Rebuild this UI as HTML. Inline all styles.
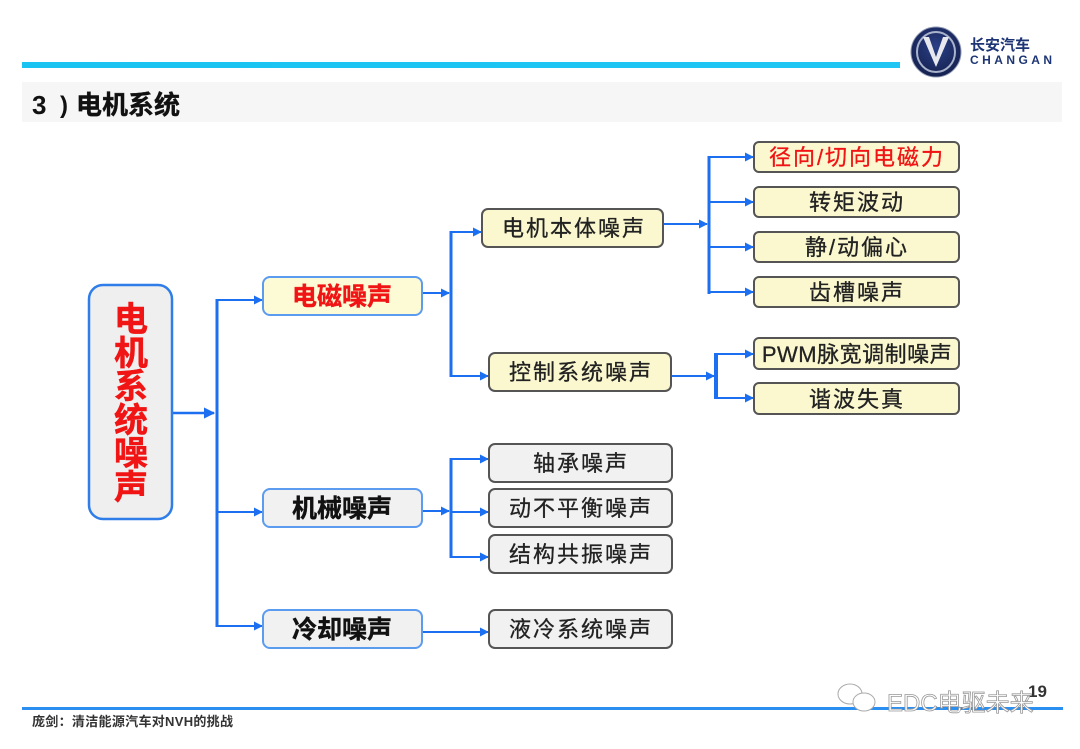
<!DOCTYPE html>
<html><head><meta charset="utf-8"><style>
html,body{margin:0;padding:0;background:#fff;width:1080px;height:749px;overflow:hidden}
svg{display:block}
text{font-family:"Liberation Sans","Noto Sans CJK SC",sans-serif}
</style></head><body>
<svg width="1080" height="749" viewBox="0 0 1080 749" xmlns="http://www.w3.org/2000/svg">
<defs>
<marker id="ar" viewBox="0 0 10 10" refX="9" refY="5" markerWidth="4.5" markerHeight="4.5" markerUnits="strokeWidth" orient="auto">
<path d="M0,0 L10,5 L0,10 z" fill="#1d6ff2"/></marker>
<linearGradient id="tl" x1="0" x2="1" y1="0" y2="0"><stop offset="0" stop-color="#19c3f2"/><stop offset="1" stop-color="#1fc6f4"/></linearGradient>
<radialGradient id="lg" cx="0.5" cy="0.4" r="0.6"><stop offset="0" stop-color="#2a3f86"/><stop offset="1" stop-color="#15214f"/></radialGradient>
</defs>
<!-- header -->
<rect x="22" y="62" width="878" height="6" fill="url(#tl)"/>
<rect x="22" y="82" width="1040" height="40" fill="#f6f6f6"/>
<text x="32" y="114" font-size="26" font-weight="bold" fill="#111">3</text>
<text x="60" y="113" font-size="24" font-weight="bold" fill="#111">)</text>
<text x="76" y="114" font-size="26" font-weight="bold" fill="#111" stroke="#111" stroke-width="0.4">电机系统</text>
<!-- logo -->
<ellipse cx="936" cy="52" rx="25" ry="25" fill="url(#lg)" stroke="#8d97b3" stroke-width="1"/>
<ellipse cx="936" cy="52" rx="19" ry="20" fill="none" stroke="#aab3cc" stroke-width="2"/>
<path d="M923,37 L936,67 L949,37 L943,37 L936,57 L929,37 z" fill="#e6e8ee"/>
<text x="970" y="50" font-size="15" font-weight="bold" fill="#1d3575">长安汽车</text>
<text x="970" y="64" font-size="12" font-weight="bold" fill="#1d3575" textLength="82">CHANGAN</text>
<!-- connectors -->
<g stroke="#1d6ff2" fill="none" stroke-width="2">
<line x1="172" y1="413" x2="214" y2="413" stroke-width="2.5" marker-end="url(#ar)"/>
<line x1="217" y1="299" x2="217" y2="627" stroke-width="3"/>
<line x1="217" y1="300" x2="262" y2="300" marker-end="url(#ar)"/>
<line x1="217" y1="512" x2="262" y2="512" marker-end="url(#ar)"/>
<line x1="217" y1="626" x2="262" y2="626" marker-end="url(#ar)"/>

<line x1="422" y1="293" x2="449" y2="293" marker-end="url(#ar)"/>
<line x1="451" y1="231" x2="451" y2="377" stroke-width="3"/>
<line x1="451" y1="232" x2="481" y2="232" marker-end="url(#ar)"/>
<line x1="451" y1="376" x2="488" y2="376" marker-end="url(#ar)"/>

<line x1="663" y1="224" x2="707" y2="224" marker-end="url(#ar)"/>
<line x1="709" y1="156" x2="709" y2="294" stroke-width="3"/>
<line x1="709" y1="157" x2="753" y2="157" marker-end="url(#ar)"/>
<line x1="709" y1="202" x2="753" y2="202" marker-end="url(#ar)"/>
<line x1="709" y1="247" x2="753" y2="247" marker-end="url(#ar)"/>
<line x1="709" y1="292" x2="753" y2="292" marker-end="url(#ar)"/>

<line x1="671" y1="376" x2="714" y2="376" marker-end="url(#ar)"/>
<line x1="716" y1="353" x2="716" y2="399" stroke-width="4"/>
<line x1="716" y1="354" x2="753" y2="354" marker-end="url(#ar)"/>
<line x1="716" y1="398" x2="753" y2="398" marker-end="url(#ar)"/>

<line x1="422" y1="511" x2="449" y2="511" marker-end="url(#ar)"/>
<line x1="451" y1="458" x2="451" y2="558" stroke-width="3"/>
<line x1="451" y1="459" x2="488" y2="459" marker-end="url(#ar)"/>
<line x1="451" y1="512" x2="488" y2="512" marker-end="url(#ar)"/>
<line x1="451" y1="557" x2="488" y2="557" marker-end="url(#ar)"/>

<line x1="422" y1="632" x2="488" y2="632" marker-end="url(#ar)"/>
</g>
<!-- root -->
<rect x="89" y="285" width="83" height="234" rx="14" fill="#efefef" stroke="#2f7de8" stroke-width="2.5"/>
<g font-size="34" font-weight="bold" fill="#f01414" text-anchor="middle" stroke="#f01414" stroke-width="0.5">
<text x="131" y="331">电</text>
<text x="131" y="365">机</text>
<text x="131" y="398">系</text>
<text x="131" y="432">统</text>
<text x="131" y="465">噪</text>
<text x="131" y="499">声</text>
</g>
<!-- level 1 -->
<g stroke="#5b9bf0" stroke-width="2">
<rect x="263" y="277" width="159" height="38" rx="7" fill="#fdfbd6"/>
<rect x="263" y="489" width="159" height="38" rx="7" fill="#f1f1f1"/>
<rect x="263" y="610" width="159" height="38" rx="7" fill="#f1f1f1"/>
</g>
<g font-size="25" font-weight="bold" text-anchor="middle">
<text x="342" y="305" fill="#f01414" stroke="#f01414" stroke-width="0.4">电磁噪声</text>
<text x="342" y="517" fill="#111" stroke="#111" stroke-width="0.4">机械噪声</text>
<text x="342" y="638" fill="#111" stroke="#111" stroke-width="0.4">冷却噪声</text>
</g>
<!-- level 2/3 boxes -->
<g stroke="#555" stroke-width="2">
<rect x="482" y="209" width="181" height="38" rx="6" fill="#fbf8cf"/>
<rect x="489" y="353" width="182" height="38" rx="6" fill="#fbf8cf"/>
<rect x="754" y="142" width="205" height="30" rx="5" fill="#fbf8cf"/>
<rect x="754" y="187" width="205" height="30" rx="5" fill="#fbf8cf"/>
<rect x="754" y="232" width="205" height="30" rx="5" fill="#fbf8cf"/>
<rect x="754" y="277" width="205" height="30" rx="5" fill="#fbf8cf"/>
<rect x="754" y="338" width="205" height="31" rx="5" fill="#fbf8cf"/>
<rect x="754" y="383" width="205" height="31" rx="5" fill="#fbf8cf"/>
<rect x="489" y="444" width="183" height="38" rx="6" fill="#f1f1f1"/>
<rect x="489" y="489" width="183" height="38" rx="6" fill="#f1f1f1"/>
<rect x="489" y="535" width="183" height="38" rx="6" fill="#f1f1f1"/>
<rect x="489" y="610" width="183" height="38" rx="6" fill="#f1f1f1"/>
</g>
<g font-size="22" fill="#222" text-anchor="middle" letter-spacing="2" stroke="#222" stroke-width="0.3">
<text x="574" y="236">电机本体噪声</text>
<text x="581" y="380">控制系统噪声</text>
<text x="857" y="165" fill="#f01414" stroke="#f01414" letter-spacing="2">径向/切向电磁力</text>
<text x="857" y="210">转矩波动</text>
<text x="857" y="255">静/动偏心</text>
<text x="857" y="300">齿槽噪声</text>
<text x="857" y="362" letter-spacing="0.5">PWM脉宽调制噪声</text>
<text x="857" y="407">谐波失真</text>
<text x="581" y="471">轴承噪声</text>
<text x="581" y="516">动不平衡噪声</text>
<text x="581" y="562">结构共振噪声</text>
<text x="581" y="637">液冷系统噪声</text>
</g>
<!-- footer -->
<rect x="22" y="707" width="1041" height="3" fill="#2a8ff0"/>
<text x="32" y="726" font-size="13" font-weight="bold" fill="#333" textLength="201">庞剑：清洁能源汽车对NVH的挑战</text>
<text x="1028" y="697" font-size="17" font-weight="bold" fill="#333">19</text>
<g fill="#fff" stroke="#aaa" stroke-width="1">
<ellipse cx="850" cy="694" rx="12" ry="10"/>
<ellipse cx="864" cy="702" rx="11" ry="9"/>
</g>
<text x="887" y="711" font-size="24" fill="#fff" stroke="#999" stroke-width="0.8">EDC电驱未来</text>
</svg>
</body></html>
